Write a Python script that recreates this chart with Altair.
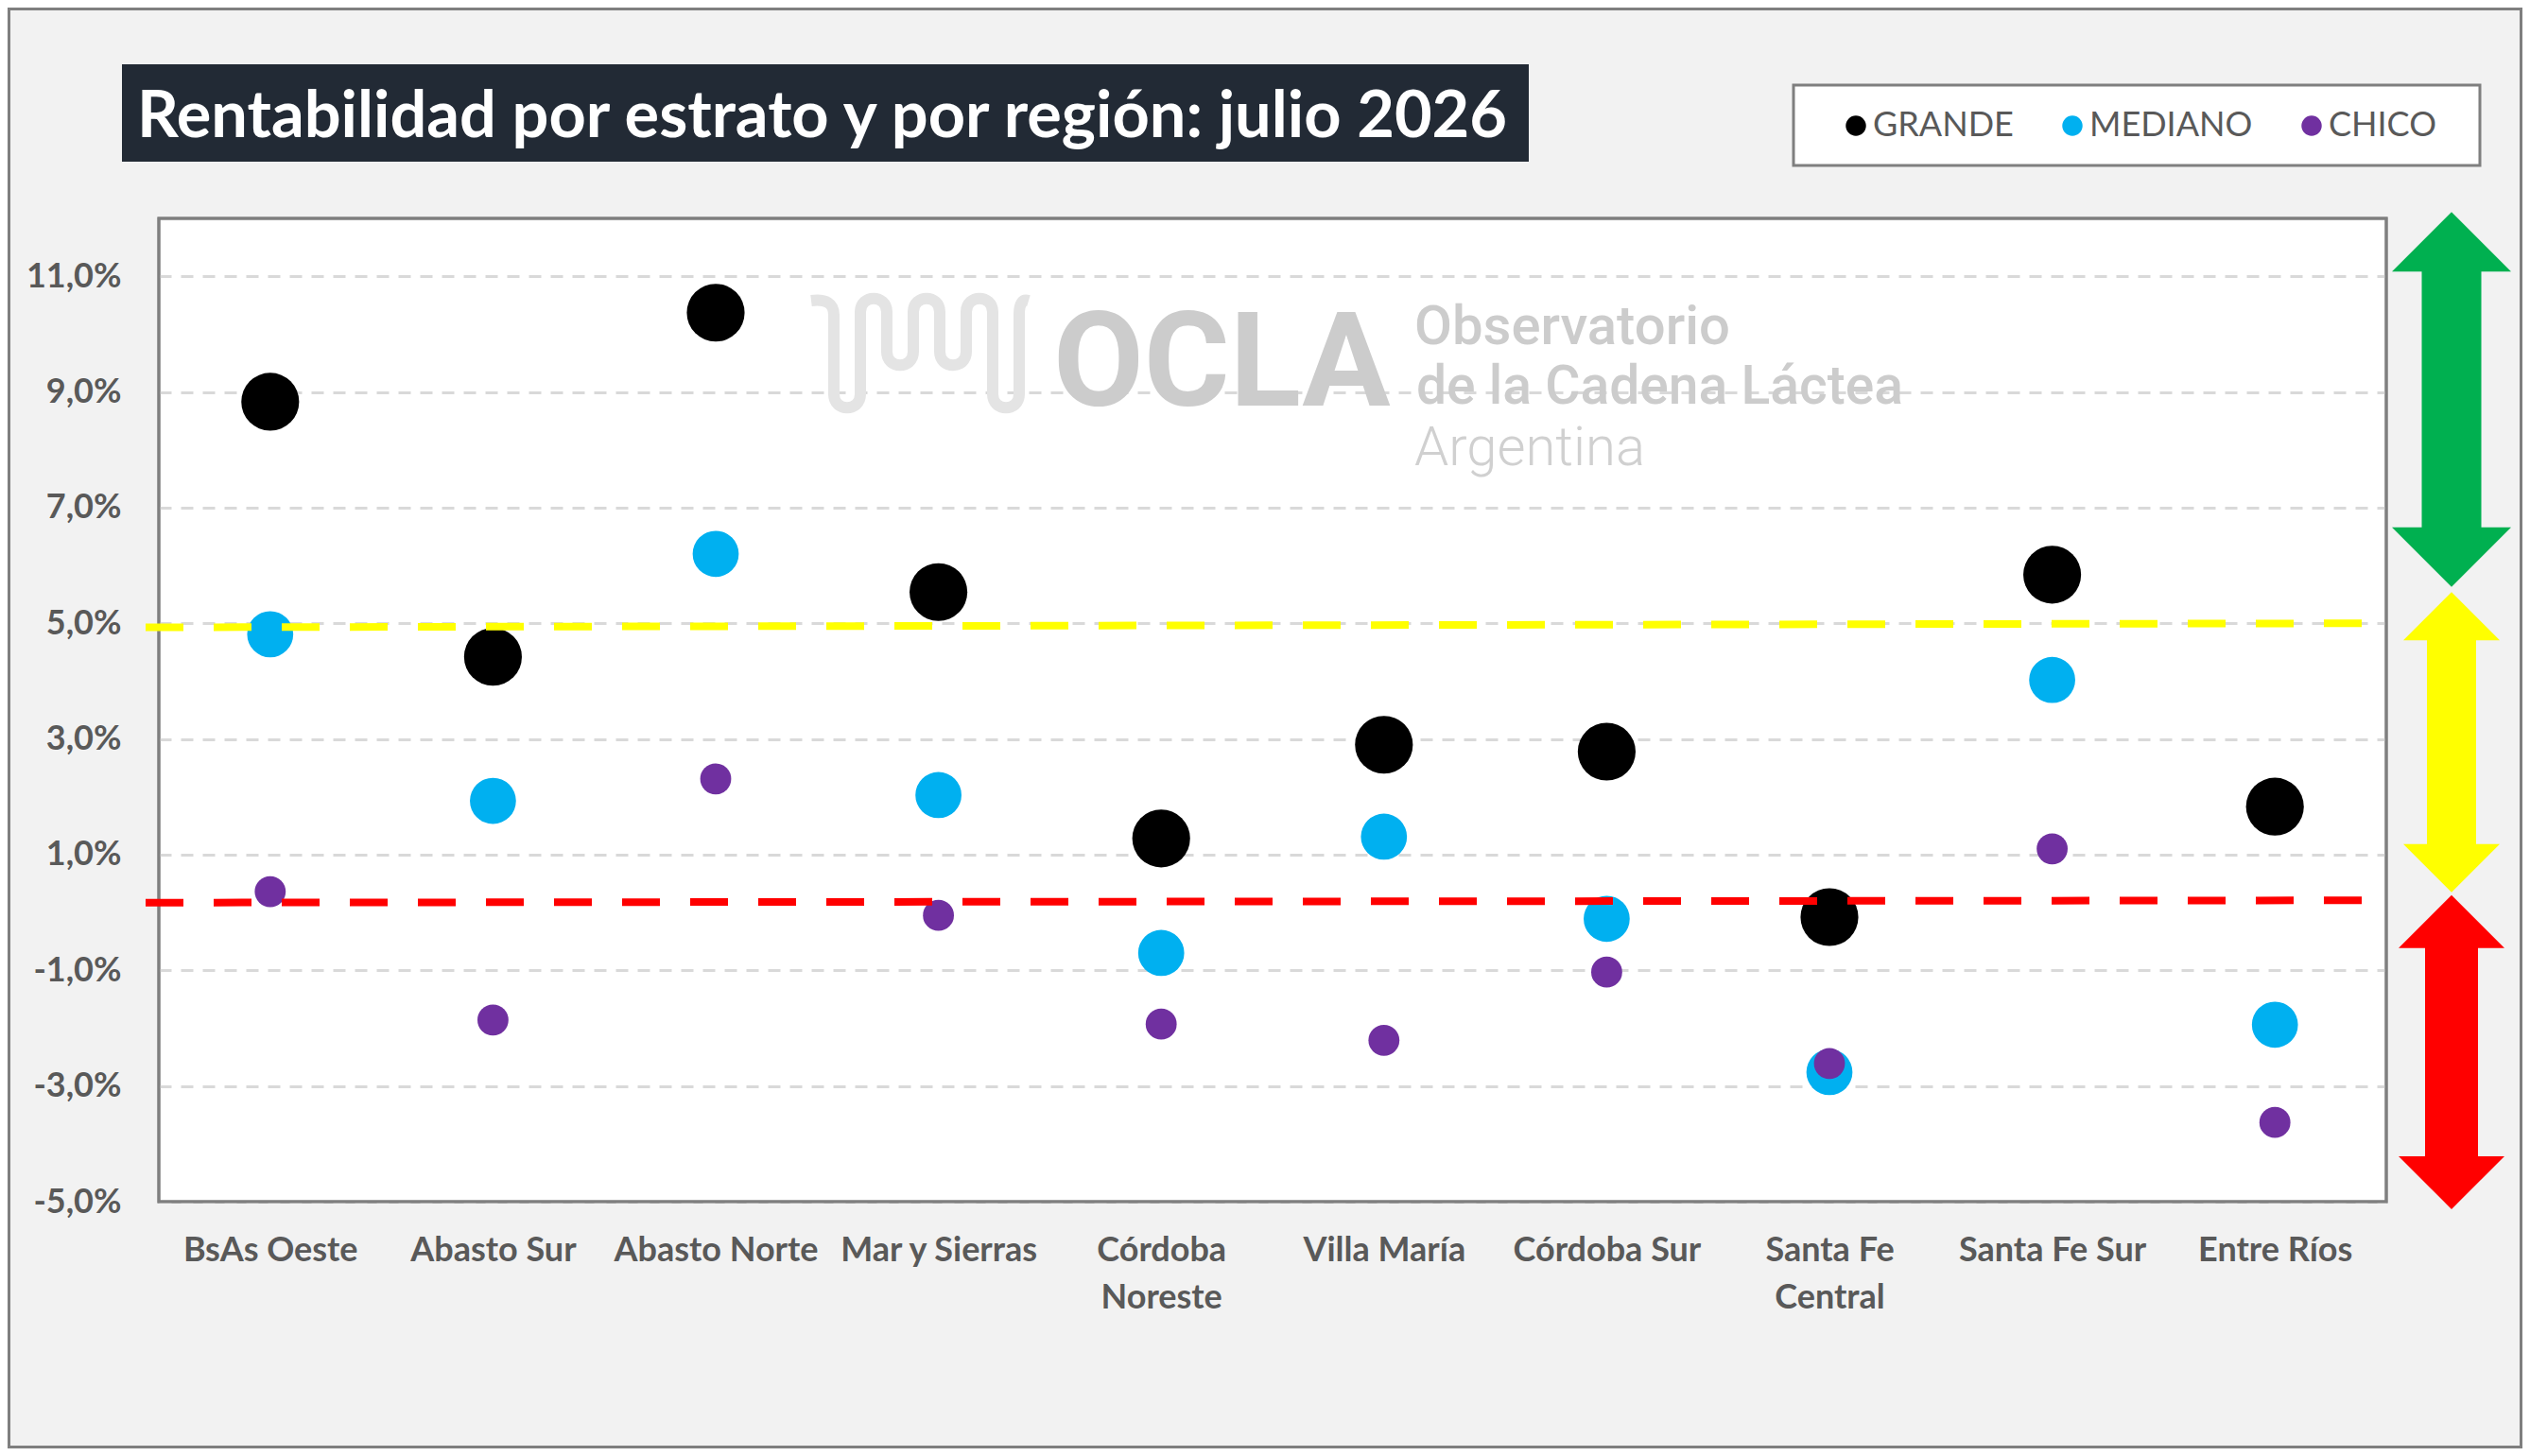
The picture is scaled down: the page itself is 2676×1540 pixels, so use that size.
import altair as alt
import pandas as pd

# ---------------- data ----------------
regiones = ["BsAs Oeste", "Abasto Sur", "Abasto Norte", "Mar y Sierras",
            "Córdoba Noreste", "Villa María", "Córdoba Sur",
            "Santa Fe Central", "Santa Fe Sur", "Entre Ríos"]
estratos = ["GRANDE", "MEDIANO", "CHICO"]
grande = [8.83, 4.42, 10.37, 5.54, 1.28, 2.90, 2.78, -0.08, 5.84, 1.83]
mediano = [4.81, 1.93, 6.20, 2.03, -0.70, 1.31, -0.11, -2.76, 4.02, -1.94]
chico = [0.36, -1.86, 2.31, -0.05, -1.93, -2.21, -1.03, -2.61, 1.10, -3.63]
y_ticks = [-5, -3, -1, 1, 3, 5, 7, 9, 11]

umbral_nombres = ["alto", "bajo"]
umbral_inicio = [4.93, 0.17]
umbral_fin = [5.00, 0.21]

zona_nombres = ["verde", "amarillo", "rojo"]
zona_sup = [12.11, 5.54, 0.30]
zona_inf = [5.63, 0.35, -5.13]

titulo = "Rentabilidad por estrato y por región: julio 2026"
marca = ["OCLA", "Observatorio", "de la Cadena Láctea", "Argentina"]

# ---------------- styles / layout ----------------
W, H = 2356, 1040
PAD = {"left": 160, "top": 223, "right": 144, "bottom": 261}
GRAY_TXT = "#595959"
BORDER = "#7F7F7F"
colores = ["#000000", "#00B0F0", "#7030A0"]
tamanos = [3739, 2376, 1075]
umbral_colores = ["#FFFF00", "#FF0000"]
zona_colores = ["#00B050", "#FFFF00", "#FF0000"]
zona_cabeza = [126, 102, 112]
zona_cuerpo = [63, 52, 56]
ARROW_X = 2425

y_scale = alt.Scale(domain=[-5, 12], nice=False, zero=False)
x_scale = alt.Scale(type="point", domain=regiones, padding=0.5)

rows = []
for est, vals in zip(estratos, [grande, mediano, chico]):
    for r, v in zip(regiones, vals):
        rows.append({"region": r, "estrato": est, "valor": v})
df = pd.DataFrame(rows)

x_label_expr = ("datum.label == 'Córdoba Noreste' ? ['Córdoba', 'Noreste'] : "
                "datum.label == 'Santa Fe Central' ? ['Santa Fe', 'Central'] : datum.label")
y_label_expr = ("(datum.value < 0 ? '-' : '') + "
                "replace(format(abs(datum.value), '.1f'), '.', ',') + '%'")

x_axis = alt.Axis(title=None, labelAngle=0, labelExpr=x_label_expr,
                  labelFont="Lato", labelFontSize=36, labelFontWeight="bold",
                  labelColor=GRAY_TXT, labelPadding=62, labelBaseline="alphabetic",
                  labelLineHeight=50, ticks=False, tickSize=0, domain=False,
                  grid=False, labelOverlap=False, labelLimit=0, labelBound=False)
y_axis = alt.Axis(title=None, values=y_ticks, labelExpr=y_label_expr,
                  labelFont="Lato", labelFontSize=36, labelFontWeight="bold",
                  labelColor=GRAY_TXT, labelPadding=40, ticks=False, tickSize=0,
                  domain=False, grid=True, gridColor="#D9D9D9", gridWidth=3,
                  gridDash=[13, 10])

layers = []
one = pd.DataFrame({"k": [0]})

# outer frame
layers.append(alt.Chart(one).mark_rect(
    fillOpacity=0, stroke=BORDER, strokeWidth=3
).encode(
    x=alt.value(-PAD["left"] + 1.5), x2=alt.value(W + PAD["right"] - 1.5),
    y=alt.value(-PAD["top"] + 1.5), y2=alt.value(H + PAD["bottom"] - 1.5)
))

# plot-area border drawn over the grid
layers.append(alt.Chart(one).mark_rect(
    fillOpacity=0, stroke=BORDER, strokeWidth=3
).encode(x=alt.value(0), x2=alt.value(W), y=alt.value(0), y2=alt.value(H)))

# title box + text
layers.append(alt.Chart(one).mark_rect(color="#222A35").encode(
    x=alt.value(-39), x2=alt.value(1449), y=alt.value(-163), y2=alt.value(-60)
))
layers.append(alt.Chart(pd.DataFrame({"t": [titulo]})).mark_text(
    font="Lato", fontSize=68.5, fontWeight="bold", color="white",
    align="left", baseline="alphabetic"
).encode(x=alt.value(-23), y=alt.value(-86), text="t:N"))

# legend box
layers.append(alt.Chart(one).mark_rect(
    fill="white", stroke=BORDER, strokeWidth=3
).encode(x=alt.value(1729), x2=alt.value(2455), y=alt.value(-141), y2=alt.value(-56)))

# watermark icon (serpentine)
def norm_path(cmds, s):
    out = []
    for c in cmds:
        if isinstance(c, str):
            out.append(c)
        else:
            out.append("%.4f,%.4f" % (c[0] / s, c[1] / s))
    return " ".join(out)

icon_cmds = ["M", (-122, -55), "Q", (-98, -58), (-98, -40), "L", (-98, 44),
             "C", (-98, 63), (-70, 63), (-70, 44), "L", (-70, -43),
             "C", (-70, -62), (-42, -62), (-42, -43), "L", (-42, -1),
             "C", (-42, 18), (-14, 18), (-14, -1), "L", (-14, -43),
             "C", (-14, -62), (14, -62), (14, -43), "L", (14, -1),
             "C", (14, 18), (42, 18), (42, -1), "L", (42, -43),
             "C", (42, -62), (70, -62), (70, -43), "L", (70, 44),
             "C", (70, 63), (98, 63), (98, 44), "L", (98, -40),
             "Q", (98, -58), (108, -55)]
icon_path = norm_path(icon_cmds, 122)
layers.append(alt.Chart(one).mark_point(
    shape=icon_path, filled=False, stroke="#E4E4E4", strokeWidth=12,
    size=(2 * 122) ** 2, opacity=1
).encode(x=alt.value(812), y=alt.value(142)))

wm_style = [
    dict(x=946, y=198, fontSize=139, fontWeight="bold", color="#CCCCCC"),
    dict(x=1328, y=133, fontSize=58, fontWeight=500, color="#CCCCCC"),
    dict(x=1330, y=196, fontSize=57, fontWeight=500, color="#CCCCCC"),
    dict(x=1328, y=261, fontSize=58, fontWeight=300, color="#D0D0D0"),
]
for txt, st in zip(marca, wm_style):
    layers.append(
        alt.Chart(pd.DataFrame({"t": [txt]})).mark_text(
            font="Roboto", fontSize=st["fontSize"], fontWeight=st["fontWeight"],
            color=st["color"], align="left", baseline="alphabetic"
        ).encode(x=alt.value(st["x"]), y=alt.value(st["y"]), text="t:N")
    )

# points: one layer per estrato (draw order GRANDE -> MEDIANO -> CHICO)
legend = alt.Legend(orient="none", legendX=1777, legendY=-116,
                    direction="horizontal", title=None,
                    labelFont="Lato", labelFontSize=36, labelLimit=0,
                    labelColor=GRAY_TXT, symbolSize=460,
                    symbolType="circle", columnPadding=44,
                    labelOffset=0, padding=0, symbolStrokeWidth=0)
for i, (est, sz) in enumerate(zip(estratos, tamanos)):
    layers.append(
        alt.Chart(df).transform_filter(alt.datum.estrato == est).mark_point(
            filled=True, opacity=1, shape="circle", strokeWidth=0, size=sz
        ).encode(
            x=alt.X("region:N", sort=regiones, scale=x_scale, axis=x_axis),
            y=alt.Y("valor:Q", scale=y_scale, axis=y_axis),
            color=alt.Color("estrato:N", sort=estratos,
                            scale=alt.Scale(domain=estratos, range=colores),
                            legend=legend),
        )
    )

# threshold lines
df_umbral = pd.DataFrame({"nombre": umbral_nombres, "inicio": umbral_inicio, "fin": umbral_fin})
for nombre, col in zip(umbral_nombres, umbral_colores):
    layers.append(
        alt.Chart(df_umbral).transform_filter(alt.datum.nombre == nombre).mark_rule(
            color=col, strokeWidth=8, strokeDash=[40, 32], strokeCap="butt"
        ).encode(
            x=alt.value(-14), x2=alt.value(2348),
            y=alt.Y("inicio:Q", scale=y_scale, axis=y_axis, title=None), y2="fin:Q"
        )
    )

# zone arrows
df_zona = pd.DataFrame({"nombre": zona_nombres, "sup": zona_sup, "inf": zona_inf})
up_path = "M0,-0.5 L1,0.5 L-1,0.5 Z"
down_path = "M0,0.5 L1,-0.5 L-1,-0.5 Z"
for nombre, col, hw, sw in zip(zona_nombres, zona_colores, zona_cabeza, zona_cuerpo):
    base = alt.Chart(df_zona).transform_filter(alt.datum.nombre == nombre)
    hh = hw / 2.0
    layers.append(base.mark_rule(color=col, strokeWidth=sw, strokeCap="butt",
                                 yOffset=hh - 1, y2Offset=-(hh - 1)).encode(
        x=alt.value(ARROW_X),
        y=alt.Y("sup:Q", scale=y_scale, axis=y_axis, title=None), y2="inf:Q"))
    layers.append(base.mark_point(shape=up_path, filled=True, opacity=1, color=col,
                                  strokeWidth=0, size=hw * hw, yOffset=hw / 4.0).encode(
        x=alt.value(ARROW_X), y=alt.Y("sup:Q", scale=y_scale, axis=y_axis, title=None)))
    layers.append(base.mark_point(shape=down_path, filled=True, opacity=1, color=col,
                                  strokeWidth=0, size=hw * hw, yOffset=-hw / 4.0).encode(
        x=alt.value(ARROW_X), y=alt.Y("inf:Q", scale=y_scale, axis=y_axis, title=None)))

chart = alt.layer(*layers).properties(
    width=W, height=H,
    padding=PAD,
    autosize=alt.AutoSizeParams(type="none"),
    background="#F2F2F2"
).configure_view(
    fill="white", stroke=BORDER, strokeWidth=3
)

chart.save("out.html", embed_options={"renderer": "svg", "actions": False})
